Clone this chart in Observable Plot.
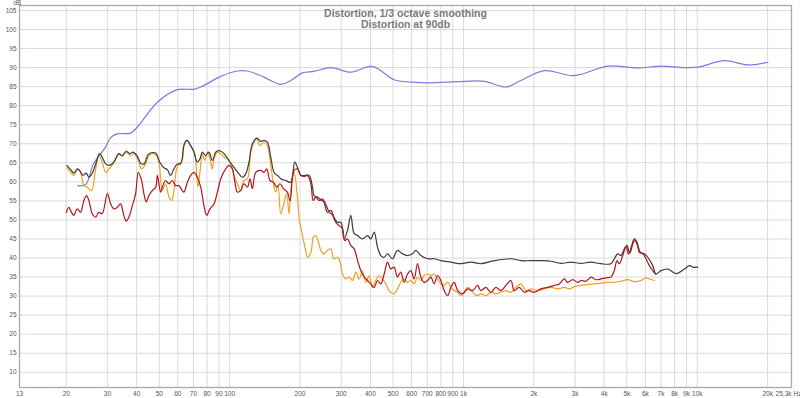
<!DOCTYPE html>
<html>
<head>
<meta charset="utf-8">
<script src="https://cdn.jsdelivr.net/npm/d3@7"></script>
<script src="https://cdn.jsdelivr.net/npm/@observablehq/plot@0.6"></script>
<style>
  html, body { margin: 0; padding: 0; background: #fff; }
  #chart svg { display: block; }
</style>
</head>
<body>
<div id="chart"></div>
<script>
const titleLines = ["Distortion, 1/3 octave smoothing", "Distortion at 90db"];

// Tick labels
const xTickValues = [12.62, 20, 30, 40, 50, 60, 70, 80, 90, 100, 200, 300, 400, 500, 600, 700, 800, 900, 1000, 2000, 3000, 4000, 5000, 6000, 7000, 8000, 9000, 10000, 20000];
const xTickLabels = ["13", "20", "30", "40", "50", "60", "70", "80", "90", "100", "200", "300", "400", "500", "600", "700", "800", "900", "1k", "2k", "3k", "4k", "5k", "6k", "7k", "8k", "9k", "10k", "20k"];
const xEndValue = 25300;
const xEndLabel = "25,3k";
const xUnit = "Hz";
const xGrid = [20, 30, 40, 50, 60, 70, 80, 90, 100, 200, 300, 400, 500, 600, 700, 800, 900, 1000, 2000, 3000, 4000, 5000, 6000, 7000, 8000, 9000, 10000, 20000];
const yTicks = [10, 15, 20, 25, 30, 35, 40, 45, 50, 55, 60, 65, 70, 75, 80, 85, 90, 95, 100, 105];
const yUnit = "dB";

// Series: [frequency Hz, level dB]
const fundamental = [
  [22.4, 59.0], [24.2, 59.3], [26.2, 64.8], [29.2, 68.8], [31.0, 71.6], [33.0, 72.6], [37.7, 72.8],
  [40.3, 74.4], [49.1, 80.9], [59.7, 84.2], [70.3, 84.3], [75.2, 84.9], [91.6, 87.7], [107.9, 89.1],
  [119.1, 89.1], [140.2, 87.5], [165.4, 85.6], [182.5, 86.6], [204.8, 88.6], [229.5, 89.0], [271.1, 90.0],
  [329.7, 88.8], [408.1, 90.3], [505, 86.8], [596, 86.2], [725, 86.0], [944, 86.3], [1227, 86.4],
  [1519, 84.9], [1762, 86.6], [2216, 89.2], [2979, 87.9], [4140, 90.4], [5565, 89.9], [7001, 90.4],
  [8810, 90.0], [10055, 90.1], [13068, 91.8], [16460, 90.7], [20048, 91.4]
];

const thd = [
  [20.1, 64.3], [20.9, 63.2], [21.55, 62.3], [22.3, 63.4], [22.8, 63.0], [23.57, 61.7], [24.36, 62.3],
  [25.0, 61.2], [25.85, 62.3], [26.9, 65.2], [27.73, 67.4], [28.48, 66.5], [29.5, 64.7], [30.47, 64.3],
  [31.93, 65.2], [33.55, 67.4], [34.74, 66.9], [36.1, 68.1], [37.37, 67.4], [38.6, 67.8], [40.3, 66.7],
  [41.6, 64.9], [42.97, 64.7], [44.87, 67.2], [46.94, 67.7], [48.6, 67.4], [50.16, 65.2], [52.34, 63.7],
  [54.13, 63.2], [55.9, 61.7], [57.75, 63.4], [59.7, 64.7], [61.67, 64.7], [63.77, 69.5], [65.5, 70.9],
  [68.1, 69.5], [70.3, 67.8], [72.7, 65.2], [74.6, 66.0], [76.4, 67.8], [78.95, 66.9], [81.5, 67.8],
  [84.3, 65.6], [87.1, 67.8], [90.0, 68.2], [93.1, 67.8], [96.1, 66.9], [99.3, 65.6], [104.4, 63.8],
  [109.6, 62.1], [113.3, 61.2], [117.1, 62.1], [121.0, 65.2], [125.1, 70.0], [130.6, 71.5], [135.8, 70.6],
  [140.2, 70.9], [145.0, 70.4], [149.9, 66.5], [154.8, 62.5], [160.1, 61.7], [165.4, 60.8], [173.7, 60.35],
  [182.5, 59.9], [189.8, 65.2], [194.9, 63.8], [201.4, 61.7], [211.5, 61.7], [218.8, 61.7], [226.2, 58.6],
  [229.5, 56.4], [237.3, 56.0], [245.3, 55.3], [252.9, 54.7], [261.6, 52.0], [271.1, 52.5], [279.3, 50.7],
  [288.8, 49.4], [298.9, 49.4], [308.6, 45.0], [319.1, 47.2], [329.7, 51.2], [340.8, 46.4], [352.5, 45.9],
  [369.6, 45.0], [388.8, 45.9], [401.2, 45.0], [415.1, 46.8], [429.2, 42.8], [443, 40.65], [458, 40.2],
  [473.6, 41.1], [496.9, 39.8], [522, 42.0], [548.4, 41.1], [576.7, 40.65], [606, 41.1], [625.7, 42.0],
  [657.4, 40.65], [701.9, 39.8], [749, 39.8], [800.4, 39.3], [883.9, 38.9], [975.2, 38.5], [1076.5, 38.9],
  [1188, 38.5], [1353.6, 39.3], [1596, 39.8], [1762, 39.3], [1943.5, 39.3], [2145, 39.3], [2368, 39.15],
  [2612, 38.6], [2883, 38.9], [3182, 38.6], [3512, 38.9], [3875, 38.5], [4276, 38.5], [4418, 39.8],
  [4569, 41.1], [4720, 40.65], [4876, 42.4], [5008, 43.3], [5122, 41.5], [5245, 43.3], [5381, 45.0],
  [5527, 44.1], [5709, 41.5], [5938, 41.1], [6141, 40.2], [6451, 38.0], [6665, 35.8], [7001, 36.7],
  [7479, 37.1], [8118, 35.9], [8810, 37.1], [9256, 38.0], [9571, 37.6], [10055, 37.6]
];

const h2 = [
  [20.0, 51.9], [20.5, 53.3], [21.06, 52.0], [21.55, 51.2], [22.29, 52.9], [23.04, 52.0], [23.79, 55.1],
  [24.43, 56.4], [24.99, 55.1], [25.85, 51.6], [26.71, 50.7], [27.54, 52.0], [28.48, 51.6], [29.99, 56.9],
  [30.98, 54.2], [31.93, 52.9], [33.02, 53.3], [34.16, 54.2], [35.25, 51.2], [36.1, 49.7], [37.04, 50.7],
  [38.38, 53.8], [39.6, 56.9], [40.67, 62.5], [42.0, 60.35], [42.97, 56.9], [44.0, 54.7], [45.14, 56.4],
  [46.66, 57.7], [48.27, 58.6], [49.08, 61.7], [50.65, 57.3], [51.5, 58.6], [53.23, 60.35], [55.0, 59.5],
  [56.85, 60.35], [58.7, 59.0], [60.6, 59.0], [62.7, 57.7], [63.77, 57.3], [65.95, 59.9], [68.1, 61.7],
  [70.3, 62.5], [72.7, 61.2], [75.2, 58.6], [77.6, 53.8], [79.7, 51.2], [82.35, 52.9], [85.65, 54.2],
  [88.6, 57.3], [91.6, 60.8], [96.1, 63.4], [99.3, 64.3], [102.7, 63.4], [105.3, 59.9], [107.9, 57.3],
  [111.4, 57.7], [115.1, 59.5], [119.1, 58.6], [122.2, 60.8], [125.1, 58.2], [129.3, 62.5], [135.8, 63.0],
  [140.2, 62.5], [144.0, 63.4], [148.8, 60.35], [153.9, 59.9], [159.0, 58.6], [164.2, 59.5], [169.8, 58.2],
  [176.6, 57.3], [181.3, 55.0], [188.5, 63.0], [194.9, 63.4], [201.4, 61.7], [208.0, 61.4], [215.1, 61.7],
  [222.5, 59.5], [227.6, 55.1], [233.4, 56.0], [241.1, 55.1], [249.4, 55.5], [257.2, 54.2], [266.6, 52.0],
  [275.7, 51.2], [284, 49.4], [293.7, 48.5], [304, 47.7], [310.7, 44.6], [319.1, 45.0], [329.7, 43.3],
  [340.8, 42.4], [352.5, 39.3], [363.8, 36.7], [376, 35.0], [388.8, 34.1], [401.2, 33.2], [415.1, 32.3],
  [429.2, 34.1], [443, 33.2], [458, 35.8], [473.6, 38.9], [488.6, 37.15], [505, 37.6], [522, 35.0],
  [539.3, 36.3], [557.4, 33.6], [576.7, 35.8], [595.9, 36.7], [615.2, 34.5], [636.1, 38.5], [657.4, 35.0],
  [678.8, 33.6], [701.9, 34.1], [725, 35.0], [749, 33.2], [774.6, 35.4], [800.4, 34.1], [827, 31.45],
  [855.4, 30.1], [883.9, 32.3], [913.1, 33.6], [944.3, 31.45], [991.7, 30.6], [1041, 31.9], [1095, 31.45],
  [1149, 32.8], [1188, 31.45], [1247, 32.3], [1311, 31.0], [1376, 32.3], [1446, 31.45], [1519, 32.8],
  [1596, 34.1], [1648, 31.45], [1732, 32.3], [1819, 31.0], [1911, 31.45], [2008, 31.0], [2145, 31.9],
  [2291, 32.3], [2445, 32.8], [2569, 33.2], [2698, 34.5], [2790, 33.6], [2932, 34.3], [3080, 33.6],
  [3182, 34.1], [3343, 33.9], [3512, 35.0], [3689, 34.3], [3875, 34.5], [4071, 34.8], [4276, 35.0],
  [4418, 36.7], [4537, 39.3], [4642, 38.5], [4800, 40.65], [4959, 43.0], [5072, 41.1], [5173, 41.5],
  [5297, 43.7], [5381, 44.6], [5527, 43.7], [5652, 41.5], [5845, 41.1], [6039, 39.8], [6239, 38.0],
  [6451, 36.7], [6665, 35.7]
];

const h3 = [
  [20.1, 63.8], [20.9, 62.5], [21.55, 61.7], [22.29, 63.2], [23.04, 62.5], [23.79, 59.0], [24.6, 58.6],
  [25.68, 57.7], [26.53, 62.1], [27.54, 66.9], [28.48, 65.2], [29.5, 62.5], [30.47, 63.4], [31.93, 64.9],
  [33.55, 67.2], [34.74, 66.7], [36.1, 67.8], [37.74, 66.9], [38.96, 67.4], [40.67, 65.6], [42.0, 63.4],
  [43.7, 64.7], [45.14, 66.9], [47.46, 67.4], [49.08, 66.5], [50.16, 63.8], [51.5, 57.7], [53.23, 59.5],
  [55.0, 56.0], [56.47, 55.1], [57.75, 57.7], [59.1, 63.0], [60.6, 64.7], [62.7, 65.6], [63.77, 70.0],
  [65.95, 70.9], [68.1, 69.5], [70.3, 68.2], [71.5, 66.0], [73.15, 58.6], [74.6, 62.5], [76.4, 67.4],
  [78.17, 65.6], [80.3, 67.8], [82.35, 66.0], [84.3, 63.4], [85.65, 66.0], [88.6, 67.8], [91.6, 67.4],
  [94.5, 66.5], [97.8, 66.0], [101.0, 64.7], [104.4, 61.7], [107.9, 59.5], [111.4, 57.7], [115.1, 60.35],
  [119.1, 60.8], [123.0, 67.8], [127.2, 70.4], [130.6, 71.3], [134.8, 69.5], [140.2, 70.4], [145.0, 69.5],
  [149.9, 64.3], [153.9, 59.5], [157.4, 57.3], [161.0, 59.0], [165.4, 51.6], [169.8, 53.8], [175.4, 56.9],
  [179.5, 51.6], [183.8, 59.5], [188.9, 62.5], [194.9, 56.0], [198.0, 50.7], [201.4, 48.1], [204.8, 45.9],
  [211.5, 42.0], [215.1, 40.2], [222.5, 41.5], [228.2, 45.5], [233.4, 45.9], [238.8, 44.6], [245.3, 42.0],
  [252.9, 41.1], [261.6, 42.0], [271.1, 42.4], [278.5, 39.8], [288.8, 40.2], [296.8, 38.9], [304, 35.8],
  [313.8, 34.5], [324.2, 35.0], [335.3, 34.1], [346.6, 36.3], [357.8, 34.5], [369.6, 36.7], [382.3, 33.6],
  [394.7, 35.4], [408.1, 32.3], [421.8, 34.1], [435.7, 35.4], [450.4, 34.5], [465.8, 33.2], [480.8, 31.45],
  [505, 30.6], [522, 31.9], [539.3, 33.6], [557.4, 34.5], [576.7, 33.6], [595.9, 34.1], [615.2, 33.2],
  [636.1, 35.0], [657.4, 34.1], [678.8, 35.4], [701.9, 35.8], [725, 35.4], [749, 35.8], [774.6, 34.5],
  [800.4, 33.2], [827, 32.8], [855.4, 33.6], [883.9, 32.3], [913.1, 31.45], [944.3, 31.0], [975.2, 30.1],
  [1007, 31.0], [1041, 32.3], [1076.5, 31.45], [1111, 30.6], [1149, 30.1], [1188, 30.6], [1247, 30.1],
  [1311, 31.0], [1376, 30.6], [1446, 31.0], [1519, 31.45], [1596, 31.0], [1676, 32.3], [1762, 33.2],
  [1850, 31.45], [1943.5, 31.9], [2076, 31.45], [2216, 31.9], [2368, 32.3], [2529, 31.9], [2698, 32.3],
  [2835, 31.9], [2979, 32.5], [3182, 32.8], [3399, 33.0], [3627, 33.2], [3875, 33.4], [4140, 33.6],
  [4418, 33.6], [4720, 33.9], [5042, 34.3], [5381, 33.8], [5748, 34.1], [6039, 34.8], [6239, 34.5],
  [6552, 34.1]
];

const seriesList = [
  {name: "fundamental", data: fundamental, color: "#7a7ae0", curve: "catmull-rom"},
  {name: "H3", data: h3, color: "#eba124", curve: "catmull-rom"},
  {name: "THD", data: thd, color: "#3c3c3c", curve: "catmull-rom"},
  {name: "H2", data: h2, color: "#b5141a", curve: "catmull-rom"}
];

const font = "'Liberation Sans', Arial, sans-serif";

const lineMarks = seriesList.map(s =>
  Plot.line(s.data.map(([f, db]) => ({f, db})), {x: "f", y: "db", stroke: s.color, strokeWidth: 1.2, curve: s.curve})
);

const xTickRows = xTickValues.map((v, i) => ({v, label: xTickLabels[i]}));

const chart = Plot.plot({
  width: 800,
  height: 398,
  marginLeft: 19,
  marginRight: 9,
  marginTop: 5,
  marginBottom: 11,
  style: {fontFamily: font, background: "#fff", overflow: "visible"},
  x: {type: "log", domain: [12.62, xEndValue], axis: null},
  y: {domain: [6, 106.3], axis: null},
  marks: [
    Plot.ruleX(xGrid, {stroke: "#dadada", strokeWidth: 1}),
    Plot.ruleY(yTicks, {stroke: "#dadada", strokeWidth: 1}),
    Plot.frame({stroke: "#a9a9a9", strokeWidth: 1.3}),
    Plot.text(titleLines.slice(0, 1), {frameAnchor: "top", dy: 8, lineAnchor: "middle", fontSize: 10.5, fontWeight: "bold", fill: "#7a7a7a"}),
    Plot.text(titleLines.slice(1, 2), {frameAnchor: "top", dy: 19.5, lineAnchor: "middle", fontSize: 10.5, fontWeight: "bold", fill: "#7a7a7a"}),
    ...lineMarks,
    Plot.text(yTicks, {y: d => d, text: d => String(d), frameAnchor: "left", textAnchor: "end", dx: -3, fontSize: 6.5, fill: "#555"}),
    Plot.text([yUnit], {frameAnchor: "top-left", dx: -6, dy: -3, lineAnchor: "middle", fontSize: 6.5, fill: "#555"}),
    Plot.text(xTickRows, {x: "v", text: "label", frameAnchor: "bottom", dy: 6, lineAnchor: "middle", fontSize: 6.5, fill: "#555"}),
    Plot.text([xEndLabel], {x: [xEndValue], frameAnchor: "bottom", textAnchor: "end", dy: 6, lineAnchor: "middle", fontSize: 6.5, fill: "#555"}),
    Plot.text([xUnit], {x: [xEndValue], frameAnchor: "bottom", textAnchor: "start", dx: 2, dy: 6, lineAnchor: "middle", fontSize: 6.5, fill: "#555"})
  ]
});

document.getElementById("chart").appendChild(chart);
</script>
</body>
</html>
